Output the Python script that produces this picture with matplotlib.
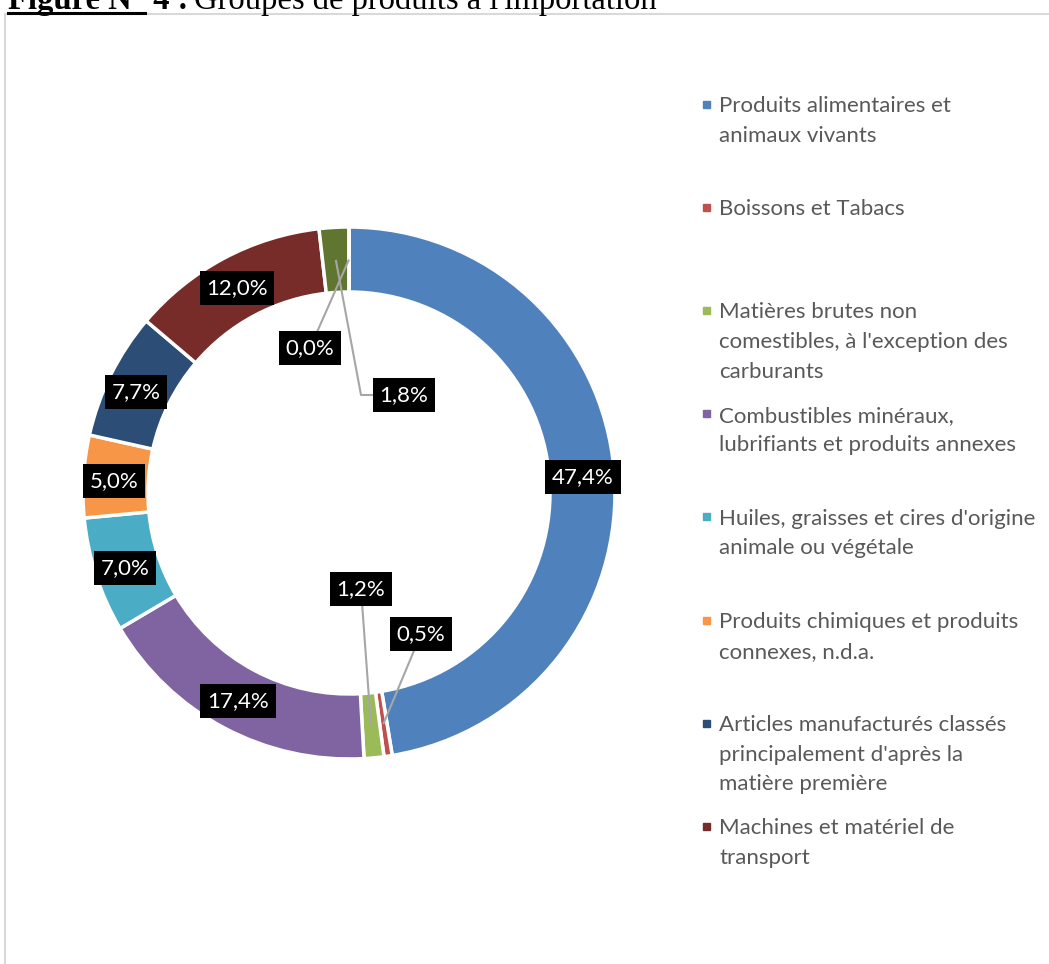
import matplotlib
matplotlib.use("Agg")
import matplotlib.pyplot as plt
from matplotlib.patches import Rectangle
import numpy as np

# ---------------- data ----------------
categories = [
    "Produits alimentaires et\nanimaux vivants",
    "Boissons et Tabacs",
    "Matières brutes non\ncomestibles, à l'exception des\ncarburants",
    "Combustibles minéraux,\nlubrifiants et produits annexes",
    "Huiles, graisses et cires d'origine\nanimale ou végétale",
    "Produits chimiques et produits\nconnexes, n.d.a.",
    "Articles manufacturés classés\nprincipalement d'après la\nmatière première",
    "Machines et matériel de\ntransport",
    "Articles manufacturés divers",
    "Articles et transactions non classés",
]
values = [47.4, 0.5, 1.2, 17.4, 7.0, 5.0, 7.7, 12.0, 1.8, 0.0]
value_labels = ["47,4%", "0,5%", "1,2%", "17,4%", "7,0%", "5,0%", "7,7%", "12,0%", "1,8%", "0,0%"]
colors = ["#4F81BD", "#C0504D", "#9BBB59", "#8064A2", "#4BACC6",
          "#F79646", "#2C4D75", "#772C2A", "#5F7530", "#4D3B62"]
n_legend = 8  # legend entries visible in the picture
title_bold_ul = "Figure N°"
title_bold = " 4 :"
title_rest = "Groupes de produits à l'importation"

# ---------------- layout (pixels) ----------------
W, H = 1049, 964
cx, cy, R, ring = 349, 493, 266, 65
label_pos = [(583, 477), (421, 634), (361, 589), (238, 701), (125, 568),
             (114, 481), (136, 392), (237, 288), (404, 395), (310, 348)]
leader = [False, True, True, False, False, False, False, False, True, True]
elbow = [None, None, None, None, None, None, None, None, (361, 395), None]

fig = plt.figure(figsize=(W / 100, H / 100), dpi=100)
FONT = "Lato"
FS = 16
TFS = 23.5

def fx(px):
    return px / W

def fy(py):
    return 1 - py / H

# frame
fig.patches.append(Rectangle((fx(5), fy(1000)), fx(1100) - fx(5), fy(14) - fy(1000),
                             transform=fig.transFigure, fill=False,
                             edgecolor="#D9D9D9", linewidth=1.5))

# title (cropped at top)
t1 = fig.text(fx(8), fy(9), title_bold_ul, fontfamily="Liberation Serif", fontsize=TFS,
              fontweight="bold", va="baseline", ha="left")
fig.canvas.draw()
e1 = t1.get_window_extent()
fig.lines.append(plt.Line2D([e1.x0 / W, e1.x1 / W], [fy(12.5), fy(12.5)],
                            transform=fig.transFigure, color="black", linewidth=2.2))
t2 = fig.text(e1.x1 / W, fy(9), title_bold, fontfamily="Liberation Serif", fontsize=TFS,
              fontweight="bold", va="baseline", ha="left")
fig.canvas.draw()
e2 = t2.get_window_extent()
fig.text((e2.x1 + 6) / W, fy(9), title_rest, fontfamily="Liberation Serif",
         fontsize=TFS, va="baseline", ha="left")

# pie axes: 1 data unit = R pixels
half = 300
ax = fig.add_axes([fx(cx - half), fy(cy + half), 2 * half / W, 2 * half / H])
wedges, _ = ax.pie(values, colors=colors, startangle=90, counterclock=False, radius=1,
                   wedgeprops=dict(width=ring / R, edgecolor="white", linewidth=2.5))
ax.set_xlim(-half / R, half / R)
ax.set_ylim(-half / R, half / R)
ax.set_aspect("equal")
ax.axis("off")

def to_data(px, py):
    return (px - cx) / R, (cy - py) / R

mid_r = 1 - ring / R / 2
for w, lab, pos, has_leader, elb in zip(wedges, value_labels, label_pos, leader, elbow):
    tx, ty = to_data(*pos)
    ax.text(tx, ty, lab, ha="center", va="center", color="white", fontsize=FS,
            fontfamily=FONT, bbox=dict(boxstyle="square,pad=0.3", fc="black", ec="none"),
            zorder=5)
    if has_leader:
        ang = np.deg2rad((w.theta1 + w.theta2) / 2)
        xs = [mid_r * np.cos(ang)]
        ys = [mid_r * np.sin(ang)]
        if elb is not None:
            ex, ey = to_data(*elb)
            xs.append(ex)
            ys.append(ey)
        xs.append(tx)
        ys.append(ty)
        ax.plot(xs, ys, color="#A6A6A6", lw=1.5, zorder=4, solid_capstyle="butt")

# legend
for i in range(n_legend):
    y0 = 104 + i * 103.2
    fig.patches.append(Rectangle((fx(703), fy(y0 + 3.5)), 7 / W, 7 / H,
                                 transform=fig.transFigure, color=colors[i]))
    fig.text(fx(719), fy(y0 - 8), categories[i], fontsize=FS, fontfamily=FONT,
             color="#595959", va="top", ha="left", linespacing=1.6)

fig.savefig("out.png", dpi=100)
